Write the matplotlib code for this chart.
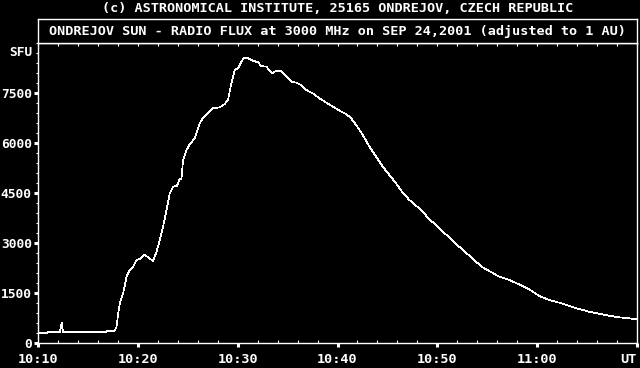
import matplotlib
matplotlib.use('Agg')
import matplotlib.pyplot as plt
from matplotlib.ticker import MultipleLocator

# minutes after 10:00 UT and flux in SFU
minutes = [10.0, 10.95, 11.0, 12.2, 12.37, 12.5, 16.8, 16.9, 17.4, 17.7, 17.87, 18.03, 18.2,
           18.53, 18.87, 19.2, 19.53, 19.87, 20.2, 20.63, 21.03, 21.53, 21.87, 22.2, 22.53,
           22.87, 23.2, 23.53, 23.93, 24.2, 24.37, 24.53, 24.87, 25.2, 25.7, 26.2, 26.53,
           27.03, 27.53, 28.2, 28.7, 29.03, 29.37, 29.7, 30.03, 30.37, 30.6, 31.03, 31.53,
           32.03, 32.37, 32.87, 33.47, 33.87, 34.37, 34.87, 35.37, 35.87, 36.37, 36.87,
           37.53, 38.2, 38.87, 39.53, 40.2, 40.87, 41.37, 41.87, 42.53, 43.2, 43.87, 44.53,
           45.2, 45.87, 46.53, 47.2, 47.87, 48.53, 49.2, 49.87, 50.53, 51.2, 51.87, 52.53,
           53.2, 53.87, 54.53, 55.2, 56.2, 57.2, 58.2, 59.2, 60.2, 61.2, 62.2, 63.2, 64.2,
           65.2, 66.2, 67.2, 68.2, 69.2, 69.97]
flux = [300, 300, 330, 330, 610, 330, 330, 360, 360, 370, 490, 890, 1190,
        1490, 1990, 2190, 2290, 2490, 2520, 2660, 2570, 2460, 2740, 3090, 3490,
        3990, 4490, 4690, 4720, 4940, 4910, 5490, 5790, 5960, 6140, 6590, 6760,
        6890, 7040, 7070, 7170, 7290, 7790, 8190, 8240, 8440, 8540, 8540, 8470,
        8420, 8310, 8290, 8090, 8170, 8160, 7990, 7840, 7810, 7740, 7590,
        7490, 7340, 7210, 7090, 6970, 6870, 6740, 6540, 6240, 5890, 5590, 5290,
        5040, 4790, 4510, 4290, 4120, 3940, 3710, 3540, 3340, 3170, 2970, 2800,
        2620, 2440, 2270, 2160, 1990, 1890, 1760, 1610, 1410, 1290, 1210, 1110, 1020,
        940, 880, 820, 770, 740, 710]

xticks = [10, 20, 30, 40, 50, 60, 70]
xlabels = ['10:10', '10:20', '10:30', '10:40', '10:50', '11:00', 'UT']
yticks = [0, 1500, 3000, 4500, 6000, 7500]

header = '(c) ASTRONOMICAL INSTITUTE, 25165 ONDREJOV, CZECH REPUBLIC'
title = 'ONDREJOV SUN - RADIO FLUX at 3000 MHz on SEP 24,2001 (adjusted to 1 AU)'

W, H = 640, 368
font = dict(family='DejaVu Sans Mono', weight='bold', size=9.7, color='white')
yfont = dict(font, size=9.3)

fig = plt.figure(figsize=(6.4, 3.68), dpi=100, facecolor='black')
ax = fig.add_axes([38 / W, (H - 343) / H, 599 / W, 300 / H], facecolor='black')
tax = fig.add_axes([38 / W, (H - 43) / H, 599 / W, 24 / H], facecolor='black')

ax.plot(minutes, flux, color='white', lw=0.5, antialiased=False)
ax.set_xlim(10, 70)
ax.set_ylim(0, 9000)

for sp in ax.spines.values():
    sp.set_color('white')
    sp.set_linewidth(1.0)
ax.set_xticks(xticks)
ax.set_xticklabels(xlabels, fontdict=font)
ax.get_xticklabels()[-1].set_ha('right')
ax.get_xticklabels()[-1].set_x(70.1)
ax.set_yticks(yticks)
ax.set_yticklabels([str(v) for v in yticks], fontdict=yfont)
ax.xaxis.set_minor_locator(MultipleLocator(2))
ax.yaxis.set_minor_locator(MultipleLocator(300))
ax.tick_params(axis='x', which='major', direction='out', length=3, width=2.2, color='white', pad=4)
ax.tick_params(axis='x', which='minor', direction='in', length=2.5, width=0.8, color='white')
ax.tick_params(axis='y', which='major', direction='out', length=3, width=2.2, color='white', pad=1.5)
ax.tick_params(axis='y', which='minor', direction='out', length=1.5, width=0.8, color='white')
ax.text(-0.009, 8720, 'SFU', transform=ax.get_yaxis_transform(), ha='right', va='center', **yfont)

# ticks along the top edge
top = ax.secondary_xaxis('top')
top.set_xticks(range(10, 71, 2))
top.set_xticklabels([])
top.tick_params(direction='in', length=2, width=0.8, color='white')
top.spines['top'].set_color('white')

# boxed title
tax.set_xticks([])
tax.set_yticks([])
for sp in tax.spines.values():
    sp.set_color('white')
    sp.set_linewidth(1.0)
tax.text(0.5, 0.5, title, ha='center', va='center', transform=tax.transAxes, **font)

fig.text(338 / W, 1 - 9 / H, header, ha='center', va='center', **font)

fig.savefig('out.png', dpi=100, facecolor='black')
